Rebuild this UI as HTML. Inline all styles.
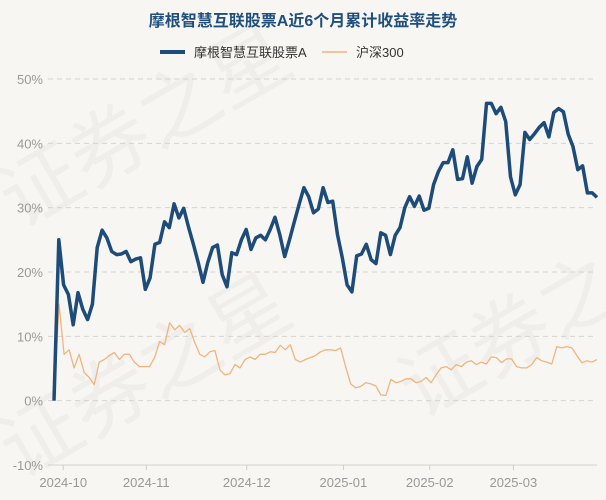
<!DOCTYPE html>
<html><head><meta charset="utf-8">
<style>
html,body{margin:0;padding:0;background:#f8f6f2;}
svg{display:block;font-family:"Liberation Sans","Noto Sans CJK SC",sans-serif;}
</style></head>
<body>
<svg id="chart" width="606" height="500" viewBox="0 0 606 500">
<rect width="606" height="500" fill="#f8f6f2"/>
<g fill="#000" opacity="0.035" font-size="80">
<text x="20" y="230" transform="rotate(-30 20 230)">证券之星</text>
<text x="20" y="480" transform="rotate(-30 20 480)">证券之星</text>
<text x="420" y="420" transform="rotate(-30 420 420)">证券之星</text>
</g>
<text x="303" y="26" text-anchor="middle" font-size="16" font-weight="bold" fill="#1e4f7d">摩根智慧互联股票A近6个月累计收益率走势</text>
<g>
<g>
<line x1="160" y1="52" x2="185" y2="52" stroke="#1d4b7a" stroke-width="4"/>
<text x="194" y="57" font-size="13" fill="#333">摩根智慧互联股票A</text>
</g>
<g>
<line x1="322" y1="52" x2="347" y2="52" stroke="#f0b47e" stroke-width="1.5"/>
<text x="356" y="57" font-size="13" fill="#333">沪深300</text>
</g>
</g>
<g id="grid"></g>
<g id="yaxis"></g>
<g id="xaxis"></g>
<g id="series"></g>
</svg>
<script>
const yTicks=[50,40,30,20,10,0,-10];
const xLabels=["2024-10","2024-11","2024-12","2025-01","2025-02","2025-03"];
const xLabelFrac=[0.017,0.17,0.355,0.533,0.692,0.846];
const fundValues=[0,25,18,16.5,11.8,16.8,14.2,12.6,15,23.8,26.5,25.3,23.2,22.7,22.8,23.2,21.6,22,22.2,17.3,19.1,24.3,24.6,27.8,26.9,30.6,28.4,29.9,27,24.3,21.5,18.4,21.5,23.8,24.2,19.6,17.7,23,22.7,25,26.6,23.5,25.3,25.7,25,26.6,28.5,25.8,22.4,25,27.8,30.5,33.1,31.7,29.2,29.8,33.1,30.8,31,25.8,22.2,18,16.9,22.5,22.8,24.3,21.9,21.3,26.1,25.7,22.7,25.7,26.9,30,31.7,30.2,31.8,29.6,29.9,33.6,35.6,37,37,39,34.4,34.5,37.9,33.8,36.4,37.5,46.2,46.2,44.6,45.6,43.4,34.8,32,33.6,41.7,40.6,41.5,42.5,43.2,41,44.8,45.4,44.9,41.4,39.5,35.9,36.5,32.3,32.3,31.6];
const hs300Values=[0,15,7.2,7.9,5.1,7.2,4.4,3.6,2.5,6,6.4,7,7.5,6.4,7.2,7.2,6,5.3,5.3,5.3,6.7,9.2,8.7,12.1,11,11.7,10.6,11.2,9,7.2,6.8,7.6,7.8,4.8,4,4.2,5.6,5.1,6.4,6.8,6.4,7.2,7.2,7.6,7.5,8.6,7.9,8.7,6.4,6,6.4,6.7,7,7.6,7.9,7.9,7.8,8.2,5.3,2.6,2,2.2,2.8,2.6,2.3,0.9,0.8,3.3,2.8,3,3.4,3.4,2.8,3,3.6,2.8,4,5.1,5.3,4.8,5.6,5.3,6,6.2,5.6,6,5.7,6.8,6.7,5.9,6.5,6.5,5.3,5.1,5.1,5.6,6.7,6.2,6,5.7,8.4,8.2,8.4,8.2,7,5.9,6.2,6,6.4];

const NS="http://www.w3.org/2000/svg";
const X0=54,X1=597,Y50=79,YM10=465;
function yScale(v){return Y50+(50-v)*(YM10-Y50)/60;}
function xScale(i,n){return X0+i*(X1-X0)/(n-1);}
function mk(tag,attrs,parent){const e=document.createElementNS(NS,tag);for(const k in attrs)e.setAttribute(k,attrs[k]);parent.appendChild(e);return e;}

const grid=document.getElementById('grid'),yax=document.getElementById('yaxis'),xax=document.getElementById('xaxis'),ser=document.getElementById('series');
yTicks.forEach(t=>{
  const y=yScale(t);
  const l=mk('line',{x1:48,x2:597,y1:y,y2:y,stroke:'#d6d3cf','stroke-width':1,'stroke-dasharray':t===-10?'':'5,4'},grid);
  
  
  const tx=mk('text',{x:43,y:y+5,'text-anchor':'end','font-size':13,fill:'#999'},yax);
  tx.textContent=t+'%';
  
  
});
xLabels.forEach((lab,i)=>{
  const x=X0+xLabelFrac[i]*(X1-X0);
  const tk=mk('line',{x1:x,x2:x,y1:465,y2:470,stroke:'#ccc'},xax);
  
  
  const tx=mk('text',{x:x,y:487,'text-anchor':'middle','font-size':13,fill:'#999'},xax);
  tx.textContent=lab;
  
  
});
function path(vals){return vals.map((v,i)=>(i?'L':'M')+xScale(i,vals.length).toFixed(1)+','+yScale(v).toFixed(1)).join(' ');}
const hp=mk('path',{d:path(hs300Values),fill:'none',stroke:'#f0b47e','stroke-width':1.3,'stroke-linejoin':'round'},ser);


const fp=mk('path',{d:path(fundValues),fill:'none',stroke:'#1d4b7a','stroke-width':3.5,'stroke-linejoin':'round'},ser);


</script>
</body></html>
